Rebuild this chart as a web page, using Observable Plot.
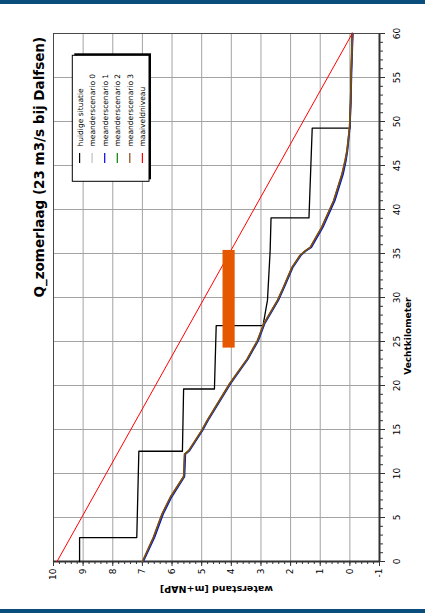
<!DOCTYPE html>
<html>
<head>
<meta charset="utf-8">
<script src="https://cdn.jsdelivr.net/npm/d3@7"></script>
<script src="https://cdn.jsdelivr.net/npm/@observablehq/plot@0.6"></script>
<style>
  html, body { margin: 0; padding: 0; background: #fff; }
  body { width: 425px; height: 613px; overflow: hidden; }
  .band { height: 4px; background: #0b4e7d; }
  #chart { height: 605px; }
  #chart svg { display: block; }
</style>
</head>
<body>
<div class="band"></div>
<div id="chart"></div>
<div class="band"></div>
<script>
// Texts
const title = "Q_zomerlaag (23 m3/s bij Dalfsen)";
const kmTitle = "Vechtkilometer";
const levelTitle = "waterstand [m+NAP]";
const seriesNames = ["huidige situatie", "meanderscenario 0", "meanderscenario 1",
                     "meanderscenario 2", "meanderscenario 3", "maaiveldniveau"];
const seriesColors = ["#000000", "#c0c0c0", "#0000ff", "#008000", "#8b4513", "#ff0000"];

// Tick labels
const levelTicks = [10, 9, 8, 7, 6, 5, 4, 3, 2, 1, 0, -1];
const kmTicks = [0, 5, 10, 15, 20, 25, 30, 35, 40, 45, 50, 55, 60];

// Huidige situatie: stepped profile with weirs
const kmHuidig    = [0, 2.72, 2.72, 12.53, 12.53, 19.6, 19.6, 26.8, 26.8, 29.7, 35.3, 39.05, 39.05, 49.25, 49.25, 60];
const levelHuidig = [9.12, 9.12, 7.19, 7.12, 5.65, 5.61, 4.57, 4.51, 2.93, 2.78, 2.69, 2.66, 1.38, 1.27, -0.01, -0.07];

// Meander scenarios (common kilometre stations)
const kmMeander = [0, 2.76, 5.4, 7.3, 9.66, 12.2, 12.6, 14.9, 16.0, 20.2, 23.0, 25.1, 27.0, 29.7,
                   31.2, 33.4, 34.8, 35.3, 35.7, 38.0, 41.0, 44.0, 45.6, 46.7, 49.35, 52, 56, 60];
const levelScen0 = [7.00, 6.63, 6.34, 6.06, 5.61, 5.58, 5.44, 5.00, 4.82, 4.06, 3.47, 3.12, 2.91, 2.44,
                    2.24, 1.96, 1.68, 1.51, 1.34, 0.95, 0.55, 0.27, 0.16, 0.10, 0.01, -0.02, -0.05, -0.09];
const levelScen1 = [6.97, 6.59, 6.30, 6.02, 5.58, 5.55, 5.41, 4.97, 4.79, 4.03, 3.44, 3.09, 2.88, 2.41,
                    2.21, 1.93, 1.65, 1.48, 1.30, 0.91, 0.51, 0.23, 0.13, 0.08, 0.00, -0.03, -0.06, -0.10];
const levelScen2 = [6.99, 6.62, 6.33, 6.05, 5.60, 5.57, 5.43, 4.99, 4.81, 4.05, 3.46, 3.11, 2.90, 2.43,
                    2.23, 1.95, 1.67, 1.50, 1.33, 0.94, 0.54, 0.26, 0.15, 0.09, 0.01, -0.02, -0.05, -0.09];
const levelScen3 = [7.00, 6.63, 6.34, 6.06, 5.61, 5.58, 5.44, 5.00, 4.82, 4.06, 3.47, 3.12, 2.91, 2.44,
                    2.24, 1.96, 1.68, 1.51, 1.34, 0.95, 0.55, 0.27, 0.16, 0.10, 0.01, -0.02, -0.05, -0.09];

// Maaiveldniveau (ground level)
const kmMaaiveld = [0, 60];
const levelMaaiveld = [9.88, -0.08];

// Highlighted stretch
const bandKm = [24.25, 35.35];
const bandLevel = [3.87, 4.28];

const toRows = (kms, levels) => kms.map((km, i) => ({km, level: levels[i]}));
const seriesData = [
  toRows(kmHuidig, levelHuidig),
  toRows(kmMeander, levelScen0),
  toRows(kmMeander, levelScen1),
  toRows(kmMeander, levelScen2),
  toRows(kmMeander, levelScen3),
  toRows(kmMaaiveld, levelMaaiveld)
];
const widths = [1.3, 1.5, 1.6, 1.5, 1.5, 1];
const band = [{km1: bandKm[0], km2: bandKm[1], l1: bandLevel[0], l2: bandLevel[1]}];

const fontFamily = "'DejaVu Sans', Verdana, sans-serif";
const minorLevel = d3.range(-5, 51).map(d => d / 5);
const minorKm = d3.range(0, 61);

const margin = {left: 53, right: 46, top: 29, bottom: 48};

// Legend layout (pixels): swatch columns inside a box near the top-left corner
const legendBox = {x: 72.3, y: 51.3, w: 76.7, h: 126};
const legendCol = i => Math.round((79.6 + i * 12.55) * 10) / 10;
const legendTextBase = 142;

const lineMarks = seriesData.map((rows, i) =>
  Plot.line(rows, {x: "level", y: "km", stroke: seriesColors[i], strokeWidth: widths[i]}));

const legendMarks = seriesNames.map((name, i) =>
  Plot.text([name], {frameAnchor: "top-left", dx: legendCol(i) - margin.left, dy: legendTextBase - margin.top,
    rotate: -90, textAnchor: "start", lineAnchor: "middle", fontSize: 7.5, fill: "#000"}));

const chart = Plot.plot({
  width: 425,
  height: 605,
  marginLeft: margin.left,
  marginRight: margin.right,
  marginTop: margin.top,
  marginBottom: margin.bottom,
  style: {fontFamily, fontSize: "9px", color: "#000", background: "#fff"},
  x: {domain: [10, -1], axis: null},
  y: {domain: [0, 60], axis: null},
  marks: [
    Plot.gridX(levelTicks, {stroke: "#a3a3a3", strokeOpacity: 1}),
    Plot.gridY(kmTicks, {stroke: "#a3a3a3", strokeOpacity: 1}),
    Plot.frame({stroke: "#4a4a4a"}),
    // tick marks
    Plot.axisX(minorLevel, {anchor: "bottom", tickSize: 3, fill: "none", stroke: "#333", label: null}),
    Plot.axisX(levelTicks, {anchor: "bottom", tickSize: 5, fill: "none", stroke: "#333", label: null}),
    Plot.axisY(minorKm, {anchor: "right", tickSize: 3, fill: "none", stroke: "#333", label: null}),
    Plot.axisY(kmTicks, {anchor: "right", tickSize: 5, fill: "none", stroke: "#333", label: null}),
    Plot.ruleY([0], {stroke: "#333", strokeWidth: 2}),
    Plot.ruleX([-1], {stroke: "#333", strokeWidth: 2}),
    ...lineMarks,
    Plot.rect(band, {x1: "l1", x2: "l2", y1: "km1", y2: "km2", fill: "#e65800"}),
    // tick labels
    Plot.text(levelTicks, {x: d => d, frameAnchor: "bottom", dy: 7, rotate: -90,
      textAnchor: "end", lineAnchor: "middle", fontSize: 9, fill: "#000"}),
    Plot.text(kmTicks, {y: d => d, frameAnchor: "right", dx: 18, rotate: -90,
      textAnchor: "middle", lineAnchor: "middle", fontSize: 9, fill: "#000"}),
    // axis titles and chart title
    Plot.text([kmTitle], {frameAnchor: "right", dx: 29, rotate: -90, lineAnchor: "middle",
      fontWeight: "bold", fontSize: 9, fill: "#000"}),
    Plot.text([levelTitle], {frameAnchor: "bottom", dy: 28, rotate: 180, lineAnchor: "middle",
      fontWeight: "bold", fontSize: 9.5, fill: "#000"}),
    Plot.text([title], {frameAnchor: "left", dx: -14, rotate: -90, lineAnchor: "middle",
      fontWeight: "bold", fontSize: 13.5, fill: "#000"}),
    // legend entry names
    ...legendMarks
  ]
});

document.getElementById("chart").appendChild(chart);

// Legend box (with drop shadow) and swatches, placed beneath the legend names
const textGroups = chart.querySelectorAll("g[aria-label='text']");
const firstLegendText = textGroups[textGroups.length - seriesNames.length];
const boxNode = document.createElementNS("http://www.w3.org/2000/svg", "g");
chart.insertBefore(boxNode, firstLegendText);
const box = d3.select(boxNode);
box.append("rect").attr("x", legendBox.x + 2).attr("y", legendBox.y - 2)
  .attr("width", legendBox.w).attr("height", legendBox.h).attr("fill", "#000");
box.append("rect").attr("x", legendBox.x).attr("y", legendBox.y)
  .attr("width", legendBox.w).attr("height", legendBox.h)
  .attr("fill", "#fff").attr("stroke", "#000").attr("stroke-width", 1);
seriesNames.forEach((name, i) => {
  box.append("line").attr("x1", legendCol(i)).attr("x2", legendCol(i))
    .attr("y1", 149).attr("y2", 159)
    .attr("stroke", seriesColors[i]).attr("stroke-width", 1.2);
});
</script>
</body>
</html>
